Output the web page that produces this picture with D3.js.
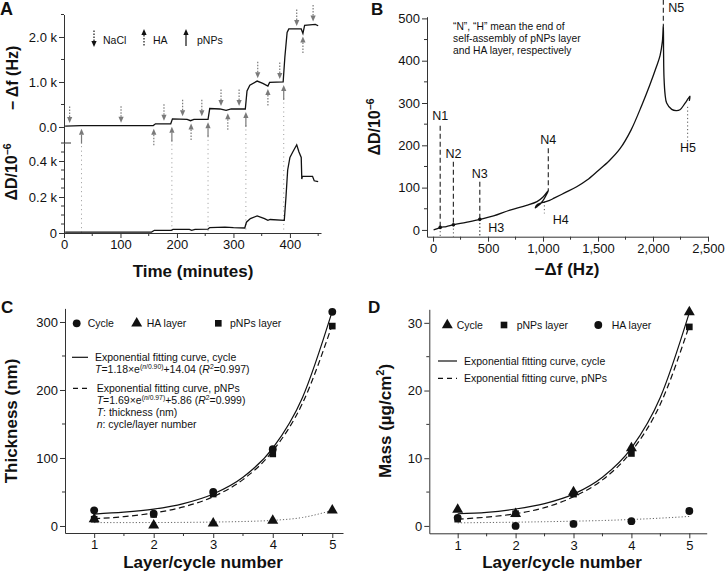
<!DOCTYPE html>
<html>
<head>
<meta charset="utf-8">
<script src="https://cdn.jsdelivr.net/npm/d3@7"></script>
<style>
  body { margin: 0; background: #fff; }
  svg { display: block; font-family: "Liberation Sans", Arial, Helvetica, sans-serif; }
</style>
</head>
<body>
<svg width="727" height="578"></svg>
<script>

// ---- panel A: QCM-D time course (values in k = x1000) ----
var timeF = [2, 30, 158, 162, 189, 192, 218, 224, 230, 255, 258, 276, 287, 296, 321, 324, 329, 342, 352, 361, 364, 388, 391, 395, 398, 420, 423, 426, 445, 450];
var freqK = [0.02, 0.03, 0.03, 0.07, 0.07, 0.18, 0.17, 0.14, 0.17, 0.17, 0.41, 0.40, 0.37, 0.40, 0.40, 0.80, 0.93, 1.02, 0.97, 0.91, 0.99, 1.00, 1.55, 2.10, 2.18, 2.18, 2.08, 2.26, 2.28, 2.25];
var timeD = [2, 155, 160, 190, 193, 222, 226, 232, 255, 258, 285, 300, 320, 323, 330, 342, 355, 361, 365, 390, 393, 396, 400, 405, 412, 416, 420, 421, 422, 440, 443, 450];
var dissK = [0.005, 0.005, 0.015, 0.015, 0.02, 0.02, 0.015, 0.02, 0.022, 0.03, 0.033, 0.03, 0.028, 0.06, 0.08, 0.095, 0.08, 0.07, 0.075, 0.07, 0.2, 0.35, 0.42, 0.45, 0.49, 0.45, 0.42, 0.30, 0.315, 0.315, 0.29, 0.285];
var naclTimes = [10, 101, 177, 210, 244, 278, 310, 343, 382, 412, 441];
var haTimes = [159, 225, 290, 361, 423];
var pnpTimes = [31, 191, 255, 322, 389];

// ---- panel B: dissipation vs frequency ----
var bFreq = [5, 40, 70, 120, 185, 300, 427, 550, 700, 850, 945, 1000, 1048, 1040, 990, 945, 930, 940, 975, 1012, 1060, 1100, 1200, 1306, 1400, 1500, 1600, 1700, 1800, 1900, 1970, 2030, 2064, 2085, 2094, 2096, 2100, 2110, 2124, 2170, 2210, 2245, 2290, 2321, 2336, 2330];
var bDiss = [0, 3, 6, 8, 12, 18, 25, 33, 47, 58, 67, 78, 93, 88, 66, 55, 52, 58, 63, 66, 70, 75, 88, 102, 118, 140, 163, 192, 236, 296, 342, 385, 412, 445, 485, 420, 360, 320, 300, 285, 282, 284, 299, 311, 316, 305];
var nNames = ['N1', 'N2', 'N3', 'N4', 'N5'];
var nFreq = [65, 185, 425, 1048, 2094];
var nTop = [246, 161, 114, 193, 544];
var nEnd = [6, 12, 25, 93, 485];
var nLabelD = [260, 169, 122, 202, 516];
var hNames = ['H3', 'H4', 'H5'];
var hFreq = [425, 1012, 2315];
var hTop = [25, 67, 291];
var hEnd = [-16, 39, 209];
var hLabelF = [502, 1088, 2318];
var hLabelD = [-6, 15, 185];

// ---- panels C, D: thickness and mass per layer ----
var layerN = [1, 2, 3, 4, 5];
var thickCycle = [23, 18, 50, 113, 315];
var thickHA = [10, 1, 4, 8, 23];
var thickPNP = [10, 17, 47, 106, 294];
var massCycle = [2.4, 1.8, 5.0, 11.5, 31.6];
var massPNP = [1.0, 1.8, 4.7, 10.7, 29.4];
var massHA = [1.2, 0.0, 0.3, 0.7, 2.2];
var fitN = [1, 1.5, 2, 2.5, 3, 3.5, 4, 4.5, 5];
var thickFitCycle = [17.6, 20.3, 24.9, 33.0, 47.1, 71.7, 114.5, 189.1, 316];
var thickFitPNP = [10.6, 13.8, 19.1, 28.1, 43.1, 68.2, 110.3, 180.6, 296];
var thickFitHA = [5, 5, 5.1, 5.3, 5.8, 6.6, 8.3, 12.5, 23];
var massFitCycle = [1.8, 2.0, 2.5, 3.3, 4.7, 7.2, 11.5, 19.0, 31.5];
var massFitPNP = [1.0, 1.3, 1.8, 2.7, 4.3, 6.8, 11.0, 18.0, 29.6];
var massFitHA = [0.45, 0.5, 0.55, 0.62, 0.7, 0.8, 0.95, 1.15, 1.4];

var svg = d3.select('svg');
var INK = '#111', AX = '#333', GREY = '#7a7a7a';

function addAxis(tx, ty, axis, minorTicks, vertical) {
  axis.tickSizeInner(5).tickSizeOuter(0).tickPadding(2);
  var g = svg.append('g').attr('transform', 'translate(' + tx + ',' + ty + ')').call(axis);
  g.select('.domain').attr('stroke', AX);
  g.selectAll('.tick line').attr('stroke', AX);
  g.selectAll('.tick text').attr('font-size', 13).attr('fill', INK).attr('font-family', null);
  if (minorTicks) {
    var m = axis.scale();
    var mg = svg.append('g').attr('transform', 'translate(' + tx + ',' + ty + ')');
    mg.selectAll('line').data(minorTicks).enter().append('line')
      .attr('stroke', AX)
      .attr('x1', function(d) { return vertical ? 0 : m(d); })
      .attr('x2', function(d) { return vertical ? -3 : m(d); })
      .attr('y1', function(d) { return vertical ? m(d) : 0; })
      .attr('y2', function(d) { return vertical ? m(d) : 3; });
  }
  return g;
}

function richText(x, y, parts, size, anchor, weight, rotate) {
  var t = svg.append('text').attr('x', x).attr('y', y).attr('font-size', size)
    .attr('text-anchor', anchor || 'start').attr('font-weight', weight || 'normal').attr('fill', INK);
  var cur = 0;
  parts.forEach(function(p) {
    var shift = p.sup ? -size * 0.4 : 0;
    var s = t.append('tspan').text(p.t).attr('dy', shift - cur);
    if (p.sup) s.attr('font-size', size * 0.65);
    if (p.it) s.attr('font-style', 'italic');
    cur = shift;
  });
  if (rotate) t.attr('transform', 'rotate(-90,' + x + ',' + y + ')');
  return t;
}

function valAt(ts, vs, t) {
  var i = d3.bisectLeft(ts, t);
  if (i <= 0) return vs[0];
  if (i >= ts.length) return vs[vs.length - 1];
  var f = (t - ts[i - 1]) / (ts[i] - ts[i - 1]);
  return vs[i - 1] + f * (vs[i] - vs[i - 1]);
}

// arrow: tip at (x, yTip); dir 1 = pointing down, -1 = pointing up
function arrow(x, yTip, dir, len, dotted, color) {
  var base = yTip - dir * 6;
  svg.append('line').attr('x1', x).attr('x2', x).attr('y1', base).attr('y2', yTip - dir * len)
    .attr('stroke', color).attr('stroke-width', 1.2)
    .attr('stroke-dasharray', dotted ? '1.5,1.5' : null);
  svg.append('path').attr('fill', color)
    .attr('d', 'M' + x + ',' + yTip + 'L' + (x - 2.6) + ',' + base + 'L' + (x + 2.6) + ',' + base + 'Z');
}

// ================= Panel A =================
var xA = d3.scaleLinear().domain([0, 455]).range([64, 321]);
var yAf = d3.scaleLinear().domain([-0.356, 2.5]).range([143, 14.5]);
var yAd = d3.scaleLinear().domain([0, 0.5]).range([233, 143]);

// pNPs dotted guide lines down to the time axis
pnpTimes.forEach(function(t) {
  var v = d3.min([t - 3, t, t + 3], function(s) { return valAt(timeF, freqK, s); });
  svg.append('line').attr('x1', xA(t)).attr('x2', xA(t))
    .attr('y1', yAf(v) + 16).attr('y2', yAd(0))
    .attr('stroke', '#999').attr('stroke-width', 1).attr('stroke-dasharray', '1,3.5');
});

addAxis(0, 233, d3.axisBottom(xA).tickValues([0, 100, 200, 300, 400]), [50, 150, 250, 350, 450]);
addAxis(64, 0, d3.axisLeft(yAf).tickValues([0, 1, 2]).tickFormat(function(d) { return d === 0 ? '0.0' : d.toFixed(1) + ' k'; }), [0.5, 1.5, 2.5], true);
addAxis(64, 0, d3.axisLeft(yAd).tickValues([0, 0.2, 0.4]).tickFormat(function(d) { return d === 0 ? '0' : d.toFixed(1) + ' k'; }),
  [0.05, 0.1, 0.15, 0.25, 0.3, 0.35, 0.45, 0.5], true);
svg.append('line').attr('x1', 64).attr('x2', 71).attr('y1', yAd(0.5)).attr('y2', yAd(0.5)).attr('stroke', AX);

var lineAf = d3.line().x(function(d) { return xA(d[0]); }).y(function(d) { return yAf(d[1]); });
var lineAd = d3.line().x(function(d) { return xA(d[0]); }).y(function(d) { return yAd(d[1]); });
svg.append('path').attr('d', lineAf(d3.zip(timeF, freqK))).attr('fill', 'none').attr('stroke', INK).attr('stroke-width', 1.3);
svg.append('path').attr('d', lineAd(d3.zip(timeD, dissK))).attr('fill', 'none').attr('stroke', INK).attr('stroke-width', 1.3);

naclTimes.forEach(function(t) {
  var v = d3.max([t - 3, t, t + 3], function(s) { return valAt(timeF, freqK, s); });
  arrow(xA(t), yAf(v) - 3, 1, 17, true, GREY);
});
haTimes.forEach(function(t) {
  var v = d3.min([t - 3, t, t + 3], function(s) { return valAt(timeF, freqK, s); });
  arrow(xA(t), yAf(v) + 3, -1, 17, true, GREY);
});
pnpTimes.forEach(function(t) {
  var v = d3.min([t - 3, t, t + 3], function(s) { return valAt(timeF, freqK, s); });
  arrow(xA(t), yAf(v) + 3, -1, 15, false, GREY);
});

// legend of panel A
arrow(94, 47, 1, 17, true, INK);
richText(103, 44, [{ t: 'NaCl' }], 10.5);
arrow(144, 29, -1, 17, true, INK);
richText(153, 44, [{ t: 'HA' }], 10.5);
arrow(186, 29, -1, 17, false, INK);
richText(197, 44, [{ t: 'pNPs' }], 10.5);

richText(0, 15, [{ t: 'A' }], 18, 'start', 'bold');
richText(18, 78, [{ t: '\u2212 \u0394f (Hz)' }], 16, 'middle', 'bold', true);
richText(17, 172, [{ t: '\u0394D/10' }, { t: '\u22126', sup: true }], 16, 'middle', 'bold', true);
richText(193, 277, [{ t: 'Time (minutes)' }], 17, 'middle', 'bold');

// ================= Panel B =================
var xB = d3.scaleLinear().domain([-55, 2500]).range([427, 708]);
var yB = d3.scaleLinear().domain([-16, 504]).range([236.7, 16.7]);

addAxis(0, 236.7, d3.axisBottom(xB).tickValues([0, 500, 1000, 1500, 2000, 2500]).tickFormat(d3.format(',')),
  [250, 750, 1250, 1750, 2250]);
addAxis(427, 0, d3.axisLeft(yB).tickValues([0, 100, 200, 300, 400, 500]), [50, 150, 250, 350, 450], true);

// N (dashed) and H (dotted) markers
nFreq.forEach(function(f, i) {
  svg.append('line').attr('x1', xB(f)).attr('x2', xB(f)).attr('y1', yB(nTop[i])).attr('y2', yB(nEnd[i]))
    .attr('stroke', '#333').attr('stroke-width', 1.2).attr('stroke-dasharray', '5,3');
  if (i < 3) {
    svg.append('line').attr('x1', xB(f)).attr('x2', xB(f)).attr('y1', yB(nEnd[i])).attr('y2', yB(-16))
      .attr('stroke', '#555').attr('stroke-width', 1).attr('stroke-dasharray', '1.2,2.5');
  }
  if (i === 4) {
    richText(xB(f) + 5, yB(nLabelD[i]), [{ t: nNames[i] }], 12.5);
  } else {
    richText(xB(f), yB(nLabelD[i]), [{ t: nNames[i] }], 12.5, 'middle');
  }
});
hFreq.forEach(function(f, i) {
  svg.append('line').attr('x1', xB(f)).attr('x2', xB(f)).attr('y1', yB(hTop[i])).attr('y2', yB(hEnd[i]))
    .attr('stroke', '#555').attr('stroke-width', 1).attr('stroke-dasharray', '1.2,2.5');
  richText(xB(hLabelF[i]), yB(hLabelD[i]), [{ t: hNames[i] }], 12.5, i === 2 ? 'middle' : 'start');
});

var lineB = d3.line().x(function(d) { return xB(d[0]); }).y(function(d) { return yB(d[1]); }).curve(d3.curveCatmullRom.alpha(0.5));
svg.append('path').attr('d', lineB(d3.zip(bFreq, bDiss))).attr('fill', 'none').attr('stroke', INK).attr('stroke-width', 1.3);
[0, 1, 2].forEach(function(i) {
  svg.append('circle').attr('cx', xB(nFreq[i])).attr('cy', yB(nEnd[i])).attr('r', 1.8).attr('fill', INK);
});

richText(453, 29.5, [{ t: '\u201cN\u201d, \u201cH\u201d mean the end of' }], 10.3);
richText(453, 41.5, [{ t: 'self-assembly of pNPs layer' }], 10.3);
richText(453, 53.5, [{ t: 'and HA layer, respectively' }], 10.3);

richText(371, 15, [{ t: 'B' }], 17, 'start', 'bold');
richText(380, 127, [{ t: '\u0394D/10' }, { t: '\u22126', sup: true }], 16, 'middle', 'bold', true);
richText(567, 275, [{ t: '\u2212\u0394f (Hz)' }], 17, 'middle', 'bold');

// ================= Panels C and D =================
function layerPanel(cfg) {
  var x = cfg.x, y = cfg.y;
  addAxis(0, cfg.axisY, d3.axisBottom(x).tickValues(layerN).tickFormat(d3.format('d')), [1.5, 2.5, 3.5, 4.5]);
  addAxis(x.range()[0], 0, d3.axisLeft(y).tickValues(cfg.ticks), cfg.minor, true);

  var fit = d3.line().x(function(d) { return x(d[0]); }).y(function(d) { return y(d[1]); }).curve(d3.curveMonotoneX);
  svg.append('path').attr('d', fit(d3.zip(fitN, cfg.fitHA))).attr('fill', 'none')
    .attr('stroke', '#666').attr('stroke-width', 1).attr('stroke-dasharray', '1.2,2');
  svg.append('path').attr('d', fit(d3.zip(fitN, cfg.fitPNP))).attr('fill', 'none')
    .attr('stroke', INK).attr('stroke-width', 1.2).attr('stroke-dasharray', '6,3.5');
  svg.append('path').attr('d', fit(d3.zip(fitN, cfg.fitCycle))).attr('fill', 'none')
    .attr('stroke', INK).attr('stroke-width', 1.2);

  cfg.series.forEach(function(s) {
    svg.append('g').selectAll('path').data(d3.zip(layerN, s.values)).enter().append('path')
      .attr('transform', function(d) { return 'translate(' + x(d[0]) + ',' + y(d[1]) + ')'; })
      .attr('d', d3.symbol().type(s.symbol).size(s.size))
      .attr('fill', INK);
  });
}

var symSize = { circle: 48, triangle: 52, square: 44 };

// ---- C ----
var xC = d3.scaleLinear().domain([0.51, 5.18]).range([65, 343]);
var yC = d3.scaleLinear().domain([-10.3, 320]).range([533, 308.4]);
layerPanel({
  x: xC, y: yC, axisY: 533, ticks: [0, 100, 200, 300], minor: [50, 150, 250],
  fitCycle: thickFitCycle, fitPNP: thickFitPNP, fitHA: thickFitHA,
  series: [
    { values: thickCycle, symbol: d3.symbolCircle, size: symSize.circle },
    { values: thickHA, symbol: d3.symbolTriangle, size: symSize.triangle },
    { values: thickPNP, symbol: d3.symbolSquare, size: symSize.square }
  ]
});

function legendSym(x, y, sym, size) {
  svg.append('path').attr('transform', 'translate(' + x + ',' + y + ')').attr('d', d3.symbol().type(sym).size(size)).attr('fill', INK);
}
function legendLine(x1, x2, y, dash) {
  svg.append('line').attr('x1', x1).attr('x2', x2).attr('y1', y).attr('y2', y)
    .attr('stroke', INK).attr('stroke-width', 1.2).attr('stroke-dasharray', dash);
}

legendSym(76.7, 323.3, d3.symbolCircle, symSize.circle);
richText(87.7, 327, [{ t: 'Cycle' }], 10.5);
legendSym(136.7, 323.3, d3.symbolTriangle, symSize.triangle);
richText(146.7, 327, [{ t: 'HA layer' }], 10.5);
legendSym(218.3, 323.3, d3.symbolSquare, symSize.square);
richText(230, 327, [{ t: 'pNPs layer' }], 10.5);

legendLine(72, 88, 357.3, null);
richText(95, 361, [{ t: 'Exponential fitting curve, cycle' }], 10.5);
richText(95, 373, [{ t: 'T', it: true }, { t: '=1.18\u00d7e' }, { t: '(', sup: true }, { t: 'n', sup: true, it: true }, { t: '/0.90)', sup: true },
  { t: '+14.04 (' }, { t: 'R', it: true }, { t: '2', sup: true }, { t: '=0.997)' }], 10.5);
legendLine(73, 88, 388.3, '5,4');
richText(96.7, 392, [{ t: 'Exponential fitting curve, pNPs' }], 10.5);
richText(96.7, 404, [{ t: 'T', it: true }, { t: '=1.69\u00d7e' }, { t: '(', sup: true }, { t: 'n', sup: true, it: true }, { t: '/0.97)', sup: true },
  { t: '+5.86 (' }, { t: 'R', it: true }, { t: '2', sup: true }, { t: '=0.999)' }], 10.5);
richText(96.7, 416, [{ t: 'T', it: true }, { t: ': thickness (nm)' }], 10.5);
richText(96.7, 428, [{ t: 'n', it: true }, { t: ': cycle/layer number' }], 10.5);

richText(1, 313, [{ t: 'C' }], 17, 'start', 'bold');
richText(17, 421, [{ t: 'Thickness (nm)' }], 17, 'middle', 'bold', true);
richText(203, 568, [{ t: 'Layer/cycle number' }], 17, 'middle', 'bold');

// ---- D ----
var xD = d3.scaleLinear().domain([0.51, 5.3]).range([429.3, 706.7]);
var yD = d3.scaleLinear().domain([-1.09, 32]).range([533.3, 309.3]);
layerPanel({
  x: xD, y: yD, axisY: 533.3, ticks: [0, 10, 20, 30], minor: [5, 15, 25],
  fitCycle: massFitCycle, fitPNP: massFitPNP, fitHA: massFitHA,
  series: [
    { values: massHA, symbol: d3.symbolCircle, size: symSize.circle },
    { values: massCycle, symbol: d3.symbolTriangle, size: symSize.triangle },
    { values: massPNP, symbol: d3.symbolSquare, size: symSize.square }
  ]
});

legendSym(447.3, 325, d3.symbolTriangle, symSize.triangle);
richText(456.7, 329, [{ t: 'Cycle' }], 10.5);
legendSym(504, 325, d3.symbolSquare, symSize.square);
richText(516.7, 329, [{ t: 'pNPs layer' }], 10.5);
legendSym(598.3, 325, d3.symbolCircle, symSize.circle);
richText(611.7, 329, [{ t: 'HA layer' }], 10.5);
legendLine(438, 457, 361, null);
richText(464, 365, [{ t: 'Exponential fitting curve, cycle' }], 10.5);
legendLine(438, 457, 378.3, '5,4');
richText(464, 382, [{ t: 'Exponential fitting curve, pNPs' }], 10.5);

richText(368, 313, [{ t: 'D' }], 17, 'start', 'bold');
richText(391, 421, [{ t: 'Mass (\u00b5g/cm' }, { t: '2', sup: true }, { t: ')' }], 17, 'middle', 'bold', true);
richText(562, 568, [{ t: 'Layer/cycle number' }], 17, 'middle', 'bold');

</script>
</body>
</html>
